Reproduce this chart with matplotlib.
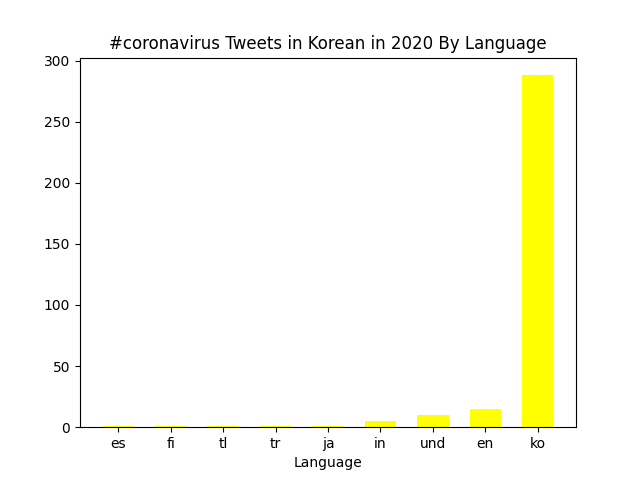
import matplotlib

matplotlib.use("Agg")
import matplotlib.pyplot as plt

languages = ["es", "fi", "tl", "tr", "ja", "in", "und", "en", "ko"]
counts = [1, 1, 1, 1, 1, 5, 10, 15, 288]

fig, ax = plt.subplots(figsize=(6.4, 4.8), dpi=100)
ax.bar(languages, counts, width=0.6, color="yellow")
ax.set_xlabel("Language")
ax.set_title("#coronavirus Tweets in Korean in 2020 By Language")
fig.savefig("out.png")
